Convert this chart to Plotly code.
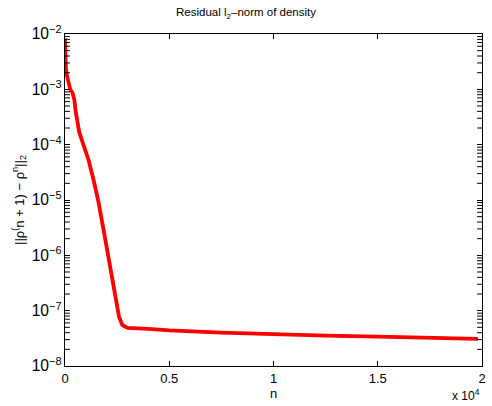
import plotly.graph_objects as go

# iteration number n and residual norm
n_iter = [0, 8, 20, 40, 90, 160, 250, 370, 450, 510, 570, 680, 880, 1130, 1370,
          1590, 1880, 2160, 2430, 2590, 2750, 2900, 3000, 4000, 5000, 7500,
          10000, 12500, 15000, 17500, 19800]
residual = [8.3e-3, 5.5e-3, 3.6e-3, 2.5e-3, 1.8e-3, 1.3e-3, 1.0e-3, 8.5e-4, 6.4e-4,
            4.0e-4, 2.8e-4, 1.7e-4, 1.0e-4, 5.3e-5, 2.3e-5, 9.8e-6, 2.5e-6, 6.2e-7,
            1.55e-7, 7.8e-8, 5.5e-8, 5.0e-8, 4.9e-8, 4.7e-8, 4.4e-8, 4.0e-8,
            3.7e-8, 3.55e-8, 3.4e-8, 3.25e-8, 3.1e-8]

x_range = [0, 20000]
x_tickvals = [0, 5000, 10000, 15000, 20000]
x_ticktext = ["0", "0.5", "1", "1.5", "2"]
y_minor = [m * 10.0 ** e for e in range(-8, -2) for m in range(2, 10)]

font = dict(family="Liberation Sans, Arial, sans-serif", size=13, color="black")

fig = go.Figure()
fig.add_trace(go.Scatter(x=n_iter, y=residual, mode="lines",
                         line=dict(color="#ff0000", width=3.8), showlegend=False))

# minor log ticks on the left and right frame edges (half of each marker is clipped)
for edge in x_range:
    fig.add_trace(go.Scatter(x=[edge] * len(y_minor), y=y_minor, mode="markers",
                             marker=dict(symbol="line-ew", size=7, color="black",
                                         line=dict(color="black", width=1)),
                             cliponaxis=True, hoverinfo="skip", showlegend=False))

fig.update_layout(
    width=492, height=406,
    margin=dict(l=65, r=6, t=34, b=40),
    paper_bgcolor="white", plot_bgcolor="white",
    font=font,
    title=dict(text="Residual l<sub>2</sub>–norm of density", x=0.5, xanchor="center",
               y=0.98, yanchor="top", font=dict(size=11.5)),
    xaxis=dict(range=x_range, tickvals=x_tickvals, ticktext=x_ticktext,
               ticks="inside", ticklen=5, tickcolor="black",
               showline=True, linecolor="black", linewidth=1, mirror="allticks",
               showgrid=False, zeroline=False, tickfont=dict(size=13),
               title=dict(text="n", standoff=2, font=dict(size=13))),
    yaxis=dict(type="log", range=[-8, -2], tickmode="linear", tick0=0, dtick=1,
               exponentformat="power", showexponent="all",
               ticks="inside", ticklen=5, tickcolor="black",
               showline=True, linecolor="black", linewidth=1, mirror="allticks",
               showgrid=False, zeroline=False, tickfont=dict(size=12.5),
               title=dict(text="||ρ<sup>(</sup>n + 1) − ρ<sup>n</sup>||<sub>2</sub>",
                          standoff=4, font=dict(size=13))),
)

fig.add_annotation(text="x 10<sup>4</sup>", xref="paper", yref="paper", x=1.0, y=-0.118,
                   xanchor="right", yanchor="bottom", showarrow=False, font=dict(size=12))

fig.write_html("out.html")
